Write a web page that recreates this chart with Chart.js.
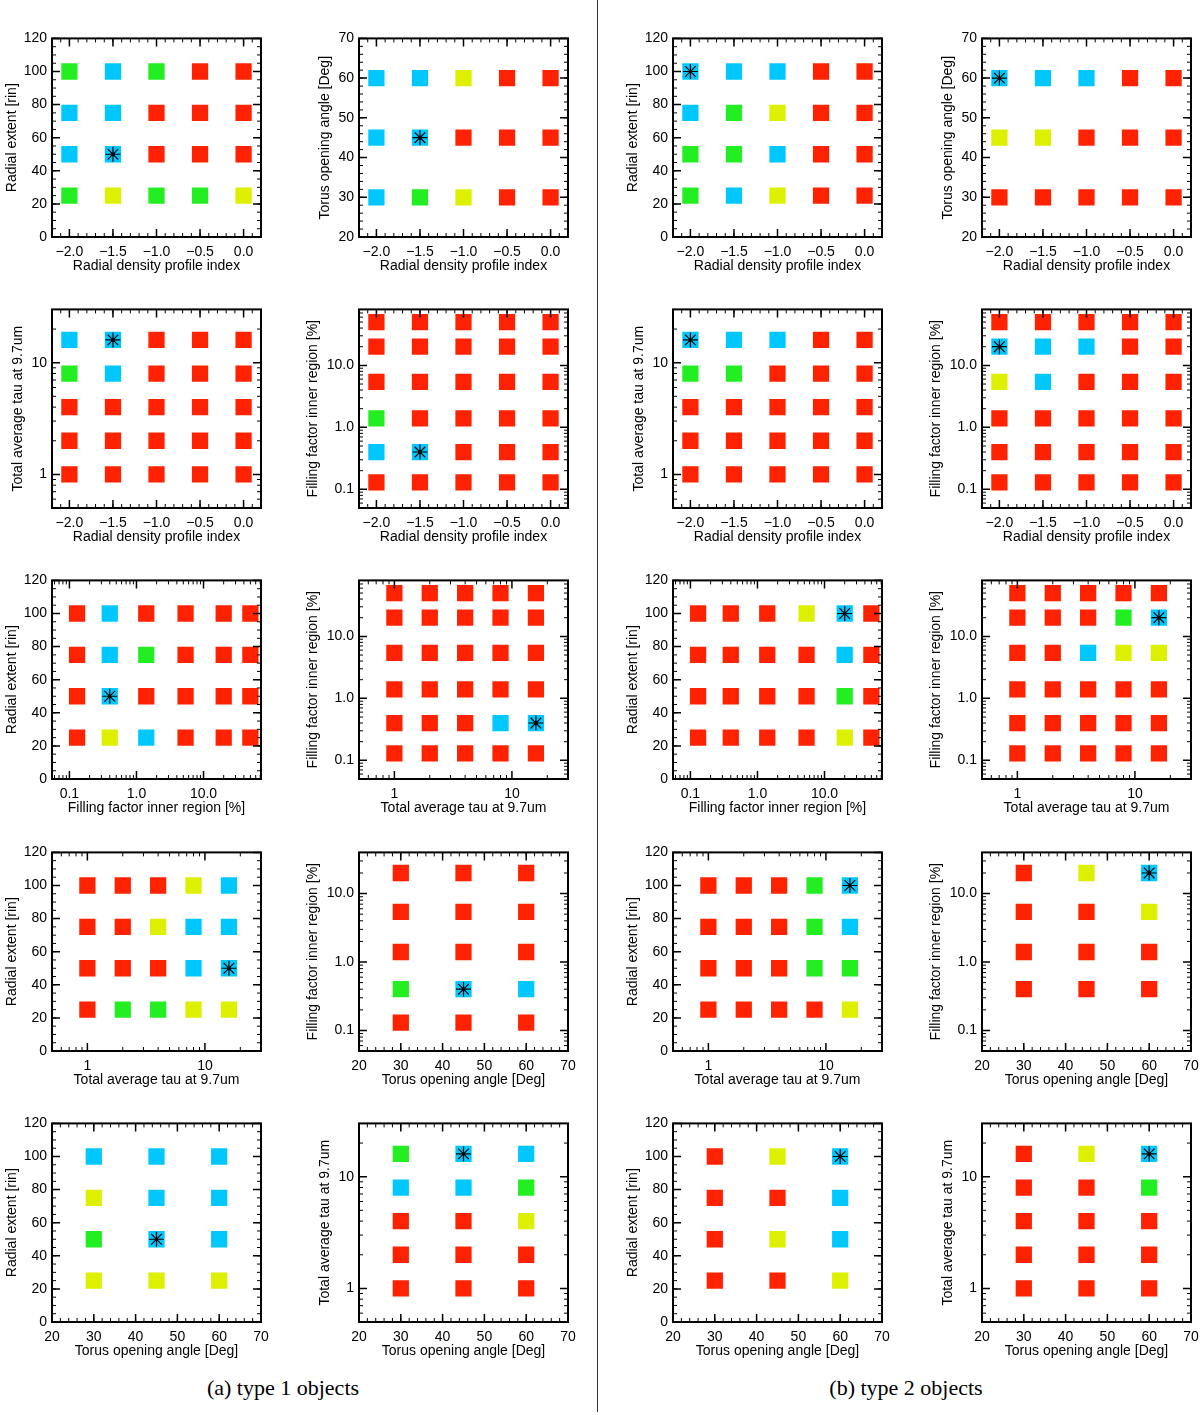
<!DOCTYPE html>
<html>
<head>
<meta charset="utf-8">
<script src="https://cdn.jsdelivr.net/npm/chart.js@4.4.1/dist/chart.umd.min.js"></script>
<style>
  body { margin: 0; background: #fff; }
  #page { position: relative; width: 1200px; height: 1415px; overflow: hidden; }
  #page canvas { position: absolute; }
  .sep { position: absolute; left: 597px; top: 0; width: 1px; height: 1412px; background: #333; }
  .caption { position: absolute; top: 1375px; font-family: "Liberation Serif", serif; font-size: 22px;
             transform: translateX(-50%); white-space: nowrap; color: #000; }
</style>
</head>
<body>
<div id="page">
  <div class="sep"></div>
  <div class="caption" style="left:283px">(a) type 1 objects</div>
  <div class="caption" style="left:906px">(b) type 2 objects</div>
</div>
<script>
// model grid values
const densityIndex = [-2.0, -1.5, -1.0, -0.5, 0.0];
const radialExtent = [25, 50, 75, 100];
const openingAngle = [30, 45, 60];
const tauValues = [1, 2, 4, 8, 16];
const fillingFactor = [0.13, 0.4, 1.4, 5.4, 20, 50];

// tick labels
const densityTicks = [-2.0, -1.5, -1.0, -0.5, 0.0];
const rinTicks = [0, 20, 40, 60, 80, 100, 120];
const angleTicks = [20, 30, 40, 50, 60, 70];
const tauTicks = [1, 10];
const fillingTicks = [0.1, 1.0, 10.0];

// fit class of each grid cell, rows from top (largest y) to bottom, one letter per x value
// R = red, B = cyan, G = green, Y = yellow, . = no model
const t1DensityRin = ["GBGRR", "BBRRR", "BBRRR", "GYGGY"];
const t1DensityAngle = ["BBYRR", "BBRRR", "BGYRR"];
const t1DensityTau = ["BBRRR", "GBRRR", "RRRRR", "RRRRR", "RRRRR"];
const t1DensityFilling = ["RRRRR", "RRRRR", "RRRRR", "GRRRR", "BBRRR", "RRRRR"];
const t1FillingRin = ["RBRRRR", "RBGRRR", "RBRRRR", "RYBRRR"];
const t1TauFilling = ["RRRRR", "RRRRR", "RRRRR", "RRRRR", "RRRBB", "RRRRR"];
const t1TauRin = ["RRRYB", "RRYBB", "RRRBB", "RGGYY"];
const t1AngleFilling = ["...", "RRR", "RRR", "RRR", "GBB", "RRR"];
const t1AngleRin = ["BBB", "YBB", "GBB", "YYY"];
const t1AngleTau = ["GBB", "BBG", "RRY", "RRR", "RRR"];

const t2DensityRin = ["BBBRR", "BGYRR", "GGBRR", "GBYRR"];
const t2DensityAngle = ["BBBRR", "YYRRR", "RRRRR"];
const t2DensityTau = ["BBBRR", "GGRRR", "RRRRR", "RRRRR", "RRRRR"];
const t2DensityFilling = ["RRRRR", "BBBRR", "YBRRR", "RRRRR", "RRRRR", "RRRRR"];
const t2FillingRin = ["RRRYBR", "RRRRBR", "RRRRGR", "RRRRYR"];
const t2TauFilling = ["RRRRR", "RRRGB", "RRBYY", "RRRRR", "RRRRR", "RRRRR"];
const t2TauRin = ["RRRGB", "RRRGB", "RRRGG", "RRRRY"];
const t2AngleFilling = ["...", "RYB", "RRY", "RRR", "RRR", "..."];
const t2AngleRin = ["RYB", "RRB", "RYB", "RRY"];
const t2AngleTau = ["RYB", "RRG", "RRR", "RRR", "RRR"];

// best fitting model (asterisk)
const bestType1 = { density: -1.5, rin: 50, angle: 45, tau: 16, filling: 0.4 };
const bestType2 = { density: -2.0, rin: 100, angle: 60, tau: 16, filling: 20 };

const palette = { R: '#ff2200', B: '#00c8ff', G: '#22ee22', Y: '#dcf000' };

const minus = v => (v < 0 ? '\u2212' : '') + Math.abs(v).toFixed(1);
// titleGap: distance of the y title centre from the left edge of the box
const axisDefs = {
  density: { type: 'linear', min: -2.2, max: 0.2, ticks: densityTicks, minor: 0.1,
             title: 'Radial density profile index', fmt: minus },
  rin: { type: 'linear', min: 0, max: 120, ticks: rinTicks, minor: 5, titleGap: 40,
         title: 'Radial extent [rin]', fmt: v => String(v) },
  angle: { type: 'linear', min: 20, max: 70, ticks: angleTicks, minor: 2, titleGap: 34,
           title: 'Torus opening angle [Deg]', fmt: v => String(v) },
  tau: { type: 'logarithmic', min: 0.5, max: 30, ticks: tauTicks, titleGap: 34,
         title: 'Total average tau at 9.7um', fmt: v => String(v) },
  filling: { type: 'logarithmic', min: 0.05, max: 80, ticks: fillingTicks, titleGap: 46,
             title: 'Filling factor inner region [%]', fmt: v => v.toFixed(1) }
};
const gridValues = { density: densityIndex, rin: radialExtent, angle: openingAngle, tau: tauValues, filling: fillingFactor };

// [group, row, column, x, y, cells, range override]
const panels = [
  [0, 0, 0, 'density', 'rin', t1DensityRin],
  [0, 0, 1, 'density', 'angle', t1DensityAngle],
  [0, 1, 0, 'density', 'tau', t1DensityTau],
  [0, 1, 1, 'density', 'filling', t1DensityFilling],
  [0, 2, 0, 'filling', 'rin', t1FillingRin, { xMin: 0.055, xMax: 72 }],
  [0, 2, 1, 'tau', 'filling', t1TauFilling],
  [0, 3, 0, 'tau', 'rin', t1TauRin],
  [0, 3, 1, 'angle', 'filling', t1AngleFilling, { yMax: 40 }],
  [0, 4, 0, 'angle', 'rin', t1AngleRin],
  [0, 4, 1, 'angle', 'tau', t1AngleTau],
  [1, 0, 0, 'density', 'rin', t2DensityRin],
  [1, 0, 1, 'density', 'angle', t2DensityAngle],
  [1, 1, 0, 'density', 'tau', t2DensityTau],
  [1, 1, 1, 'density', 'filling', t2DensityFilling],
  [1, 2, 0, 'filling', 'rin', t2FillingRin, { xMin: 0.055, xMax: 72 }],
  [1, 2, 1, 'tau', 'filling', t2TauFilling],
  [1, 3, 0, 'tau', 'rin', t2TauRin],
  [1, 3, 1, 'angle', 'filling', t2AngleFilling, { yMax: 40 }],
  [1, 4, 0, 'angle', 'rin', t2AngleRin],
  [1, 4, 1, 'angle', 'tau', t2AngleTau]
];

const colX = [52, 359, 673, 982];
const rowY = [37, 308, 579, 851, 1122];
const boxW = 209, boxH = 200;
const axisW = 60, axisH = 46, padTop = 12, padRight = 16;
const titleSize = 14;

Chart.defaults.font.family = '"Liberation Sans", Arial, sans-serif';
Chart.defaults.color = '#000';

function minorTicks(def, min, max) {
  const out = [];
  if (def.type === 'logarithmic') {
    for (let d = Math.floor(Math.log10(min)); d <= Math.ceil(Math.log10(max)); d++) {
      for (let k = 2; k <= 9; k++) {
        const v = k * Math.pow(10, d);
        if (v > min && v < max) out.push(v);
      }
    }
  } else {
    for (let v = min; v <= max + 1e-9; v += def.minor) out.push(v);
  }
  return out;
}

// IDL style box with inward ticks on all four sides
const idlFrame = {
  id: 'idlFrame',
  afterDraw(chart, args, opts) {
    const { ctx, chartArea: a, scales } = chart;
    ctx.save();
    ctx.strokeStyle = '#000';
    const mark = (scale, vals, len) => {
      ctx.beginPath();
      vals.forEach(v => {
        const p = scale.getPixelForValue(v);
        if (scale.isHorizontal()) {
          ctx.moveTo(p, a.bottom); ctx.lineTo(p, a.bottom - len);
          ctx.moveTo(p, a.top); ctx.lineTo(p, a.top + len);
        } else {
          ctx.moveTo(a.left, p); ctx.lineTo(a.left + len, p);
          ctx.moveTo(a.right, p); ctx.lineTo(a.right - len, p);
        }
      });
      ctx.stroke();
    };
    ctx.lineWidth = 1;
    mark(scales.x, opts.xMinor, 4);
    mark(scales.y, opts.yMinor, 4);
    ctx.lineWidth = 1.5;
    mark(scales.x, scales.x.ticks.map(t => t.value), 8);
    mark(scales.y, scales.y.ticks.map(t => t.value), 8);
    ctx.lineWidth = 2;
    ctx.strokeRect(a.left, a.top, a.right - a.left, a.bottom - a.top);
    ctx.restore();
  }
};

function scaleConfig(def, min, max, isX) {
  const half = titleSize * 1.2 / 2;
  return {
    type: def.type, min: min, max: max, bounds: 'data',
    grid: { display: false, drawTicks: false },
    border: { display: false },
    afterBuildTicks: axis => { axis.ticks = def.ticks.map(v => ({ value: v })); },
    afterFit: axis => { if (isX) axis.height = axisH; else axis.width = axisW; },
    ticks: { autoSkip: false, maxRotation: 0, padding: isX ? 7 : 5, font: { size: 14 },
             callback: v => def.fmt(v) },
    title: { display: true, text: def.title, font: { size: titleSize },
             padding: isX ? { top: 0, bottom: 8 } : { top: axisW - (def.titleGap || 40) - half, bottom: 0 } }
  };
}

const page = document.getElementById('page');

panels.forEach(([group, row, c, xKey, yKey, cells, range]) => {
  range = range || {};
  const xDef = axisDefs[xKey], yDef = axisDefs[yKey];
  const xMin = range.xMin || xDef.min, xMax = range.xMax || xDef.max;
  const yMin = range.yMin || yDef.min, yMax = range.yMax || yDef.max;
  const xs = gridValues[xKey], ysTop = gridValues[yKey].slice().reverse();
  const pts = [], colors = [];
  cells.forEach((line, r) => {
    [...line].forEach((code, k) => {
      if (code === '.') return;
      pts.push({ x: xs[k], y: ysTop[r] });
      colors.push(palette[code]);
    });
  });
  const best = group === 0 ? bestType1 : bestType2;

  const canvas = document.createElement('canvas');
  canvas.width = axisW + boxW + padRight;
  canvas.height = padTop + boxH + axisH;
  canvas.style.left = (colX[group * 2 + c] - axisW) + 'px';
  canvas.style.top = (rowY[row] - padTop) + 'px';
  page.appendChild(canvas);

  // datasets listed first are painted on top
  new Chart(canvas, {
    type: 'scatter',
    data: {
      datasets: [
        { data: [{ x: best[xKey], y: best[yKey] }], pointStyle: 'circle', pointRadius: 1.6,
          pointBorderWidth: 0, pointBackgroundColor: '#000' },
        { data: [{ x: best[xKey], y: best[yKey] }], pointStyle: 'star', pointRadius: 7.5,
          pointBorderWidth: 1.2, pointBorderColor: '#000', pointBackgroundColor: 'rgba(0,0,0,0)' },
        { data: pts, pointStyle: 'rect', pointRadius: 11.5, pointBorderWidth: 0,
          pointBackgroundColor: colors }
      ]
    },
    options: {
      responsive: false,
      animation: false,
      events: [],
      layout: { padding: { top: padTop, right: padRight, left: 0, bottom: 0 } },
      scales: {
        x: scaleConfig(xDef, xMin, xMax, true),
        y: scaleConfig(yDef, yMin, yMax, false)
      },
      plugins: {
        legend: { display: false },
        tooltip: { enabled: false },
        idlFrame: { xMinor: minorTicks(xDef, xMin, xMax), yMinor: minorTicks(yDef, yMin, yMax) }
      }
    },
    plugins: [idlFrame]
  });
});
</script>
</body>
</html>
